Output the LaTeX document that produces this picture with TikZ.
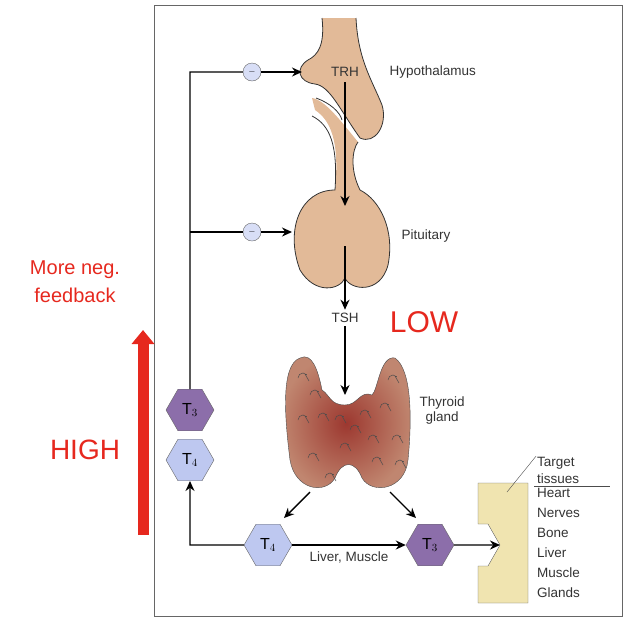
\documentclass[tikz,border=0pt]{standalone}
\usepackage{fontspec}
\setmainfont{Liberation Sans}
\usetikzlibrary{shapes.geometric,arrows.meta}
\definecolor{tan}{RGB}{226,186,152}
\definecolor{thy}{RGB}{170,100,85}
\definecolor{purp}{RGB}{140,110,170}
\definecolor{lblue}{RGB}{190,200,240}
\definecolor{tis}{RGB}{240,228,176}
\definecolor{myred}{RGB}{230,40,30}
\begin{document}
\begin{tikzpicture}[x=1pt,y=-1pt,
  lab/.style={font=\fontsize{13.5}{15}\selectfont,text=black!80},
  hexa/.style={regular polygon,regular polygon sides=6,shape border rotate=0,minimum size=48pt,inner sep=0pt,draw=black!60,font=\fontsize{16}{17}\selectfont},
  minus/.style={circle,draw=black!60,fill=lblue!60,minimum size=18pt,inner sep=0pt},
  arr/.style={-{Stealth[length=10pt,width=9pt]},line width=1.4pt},
  ln/.style={line width=1.4pt}]
\useasboundingbox (0,0) rectangle (642,630);
\draw[black!60,line width=1pt] (154,5) rectangle (622,616);
% hypothalamus
\fill[tan] (322,18) .. controls (325,45) and (318,55) .. (308,60) .. controls (295,68) and (298,82) .. (315,84) .. controls (330,86) and (340,110) .. (360,138) .. controls (375,145) and (388,125) .. (382,105) .. controls (372,80) and (358,60) .. (356,18) -- cycle;
\draw[black!80,line width=0.8pt] (322,18) .. controls (325,45) and (318,55) .. (308,60) .. controls (295,68) and (298,82) .. (315,84) .. controls (330,86) and (340,110) .. (360,138) .. controls (375,145) and (388,125) .. (382,105) .. controls (372,80) and (358,60) .. (356,18);
% pituitary
\fill[tan] (315,110) .. controls (330,120) and (340,140) .. (335,190) .. controls (300,190) and (285,230) .. (300,270) .. controls (315,295) and (340,290) .. (345,278) .. controls (350,290) and (380,295) .. (388,265) .. controls (395,230) and (380,200) .. (360,190) .. controls (350,170) and (352,150) .. (358,142) .. controls (340,120) and (325,100) .. (312,98) -- cycle;
\draw[black!80,line width=0.8pt] (312,116) .. controls (330,125) and (338,145) .. (335,190) .. controls (300,190) and (285,230) .. (300,270) .. controls (315,295) and (340,290) .. (345,278) .. controls (350,290) and (380,295) .. (388,265) .. controls (395,230) and (380,200) .. (360,190) .. controls (350,170) and (352,150) .. (358,142);
\draw[black!80,line width=0.8pt] (316,98) .. controls (330,103) and (340,112) .. (342,120);
\node[lab] (trh) at (345,72) {TRH};
\node[lab,anchor=west] (hyp) at (386,72) {Hypothalamus};
\node[lab,anchor=west] (pit) at (398,236) {Pituitary};
\coordinate (hs) at (345,82);
\coordinate (pe) at (345,206);
\draw[arr] (hs) -- (pe);
% thyroid
\shade[inner color=thy!70!red!80!black,outer color=thy!60!tan,draw=black!70] (300,358) .. controls (280,365) and (285,420) .. (290,460) .. controls (295,490) and (325,495) .. (335,478) .. controls (342,460) and (355,460) .. (362,478) .. controls (372,495) and (405,490) .. (408,460) .. controls (412,420) and (412,370) .. (395,358) .. controls (380,355) and (378,390) .. (372,395) .. controls (360,390) and (358,405) .. (345,405) .. controls (330,405) and (330,395) .. (322,390) .. controls (318,370) and (312,352) .. (300,358) -- cycle;
\foreach \x/\y in {298/378,318/418,350/430,380/408,392/440,308/458,372/462,340/448,298/420,388/380,360/415,325/478,310/395,395/465,335/420,368/440}
  \draw[black!70,line width=0.5pt] (\x,\y) arc (180:320:5) (\x+7,\y-4) -- (\x+11,\y+3);
\node[lab,anchor=west,align=center] (thl) at (416,410) {Thyroid\\gland};
\coordinate (ps) at (345,246);
\node[lab] (tsh) at (345,318) {TSH};
\coordinate (te) at (345,395);
\draw[arr] (ps) -- (tsh.north);
\draw[arr] (tsh.south) -- (te);
\node[text=myred,font=\fontsize{30}{32}\selectfont] (low) at (424,322) {LOW};
% hexagons
\node[hexa,fill=purp] (t3a) at (190,410) {T$_3$};
\node[hexa,fill=lblue] (t4a) at (190,460) {T$_4$};
\node[hexa,fill=lblue] (t4b) at (268,545) {T$_4$};
\node[hexa,fill=purp] (t3b) at (430,545) {T$_3$};
% feedback
\node[minus] (m1) at (252,72) {\small$-$};
\node[minus] (m2) at (252,232) {\small$-$};
\coordinate (c1) at (190,72);
\coordinate (c2) at (190,232);
\coordinate (h1) at (302,72);
\coordinate (h2) at (292,232);
\draw[ln] (t3a.north) -- (c1) -- (m1);
\draw[ln] (c2) -- (m2);
\draw[arr] (m1) -- (h1);
\draw[arr] (m2) -- (h2);
\coordinate (bl) at (190,545);
\draw[arr] (t4b.west) -- (bl) -- (t4a.south);
\coordinate (g1) at (310,492);
\coordinate (g2) at (390,492);
\coordinate (e1) at (284,518);
\coordinate (e2) at (416,518);
\draw[arr] (g1) -- (e1);
\draw[arr] (g2) -- (e2);
\draw[arr] (t4b.east) -- (t3b.west) node[midway,below=3pt,lab] {Liver, Muscle};
% target
\coordinate (tip) at (500,545);
\draw[fill=tis,draw=black!60] (478,483) -- (528,483) -- (528,603) -- (478,603) -- (478,566) -- (488,566) -- (500,545) -- (488,524) -- (478,524) -- cycle;
\draw[arr] (t3b.east) -- (tip);
\node[lab,anchor=south west,align=left,inner sep=1pt,font=\fontsize{13.5}{17}\selectfont] (tt) at (536,485) {Target\\tissues};
\draw[black!70] (534,486) -- (610,486);
\coordinate (lead) at (507,492);
\draw[black!70] (lead) -- (tt.north west);
\node[lab,anchor=north west,align=left,inner sep=1pt,font=\fontsize{13.5}{20}\selectfont] (org) at (536,487) {Heart\\Nerves\\Bone\\Liver\\Muscle\\Glands};
% red annotations
\node[text=myred,align=center,font=\fontsize{20}{28}\selectfont] (more) at (75,282) {More neg.\\feedback};
\node[text=myred,font=\fontsize{28}{30}\selectfont] (high) at (85,450) {HIGH};
\coordinate (rb) at (143,535);
\coordinate (rt) at (143,330);
\draw[-{Triangle[length=14pt,width=22pt]},line width=11pt,myred] (rb) -- (rt);
\end{tikzpicture}
\end{document}
